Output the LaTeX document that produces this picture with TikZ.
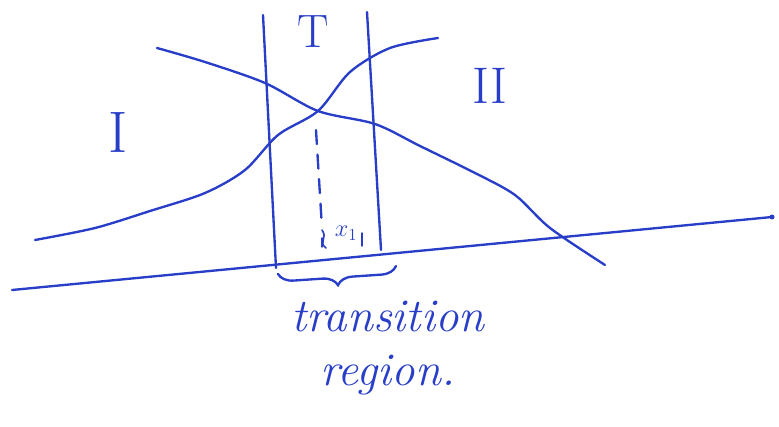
\documentclass[tikz,border=0pt]{standalone}
\usetikzlibrary{decorations.pathreplacing}
\definecolor{ink}{RGB}{40,62,200}
\begin{document}
\begin{tikzpicture}[x=0.03cm,y=-0.03cm,line width=2pt,line cap=round,ink]
  \useasboundingbox (0,0) rectangle (779,427);
  \coordinate (a0) at (12,290);
  \coordinate (a1) at (772,217);
  \draw (a0) -- (a1);
  \fill (a1) circle (2.5);
  % edges of the transition region
  \coordinate (l0) at (263,15); \coordinate (l1) at (276,268);
  \coordinate (r0) at (367,12); \coordinate (r1) at (381,250);
  \draw (l0) -- (l1);
  \draw (r0) -- (r1);
  % the two profiles
  \draw plot[smooth] coordinates {(157,48) (205,62) (265,83) (318,111)
       (375,124) (420,146) (475,173) (515,195) (550,228) (605,265)};
  \draw plot[smooth] coordinates {(35,240) (95,228) (150,211) (205,193)
       (245,170) (278,135) (318,111) (350,72) (390,48) (438,38)};
  \draw[dash pattern=on 12pt off 9pt] (316,130) -- (322,228);
  \draw[line width=1.4pt] (322,230) .. controls (328,238) and (318,242) .. (326,248);
  \draw[line width=1.2pt] (322,238) -- (322,247) (362,233) -- (362,246);
  \node (xone) at (346,233) {\fontsize{20}{24}\selectfont$x_1$};
  \draw[decorate,decoration={brace,mirror,amplitude=13pt}] (278,274) -- (396,266);
  \node (regT) at (313,32) {\fontsize{40}{48}\selectfont T};
  \node (regI) at (118,132) {\fontsize{50}{60}\selectfont I};
  \node (regII) at (490,86) {\fontsize{44}{52}\selectfont II};
  \node[align=center,font=\fontsize{40}{46}\selectfont\itshape] (trans) at (388,348)
       {transition\\ region.};
\end{tikzpicture}
\end{document}
